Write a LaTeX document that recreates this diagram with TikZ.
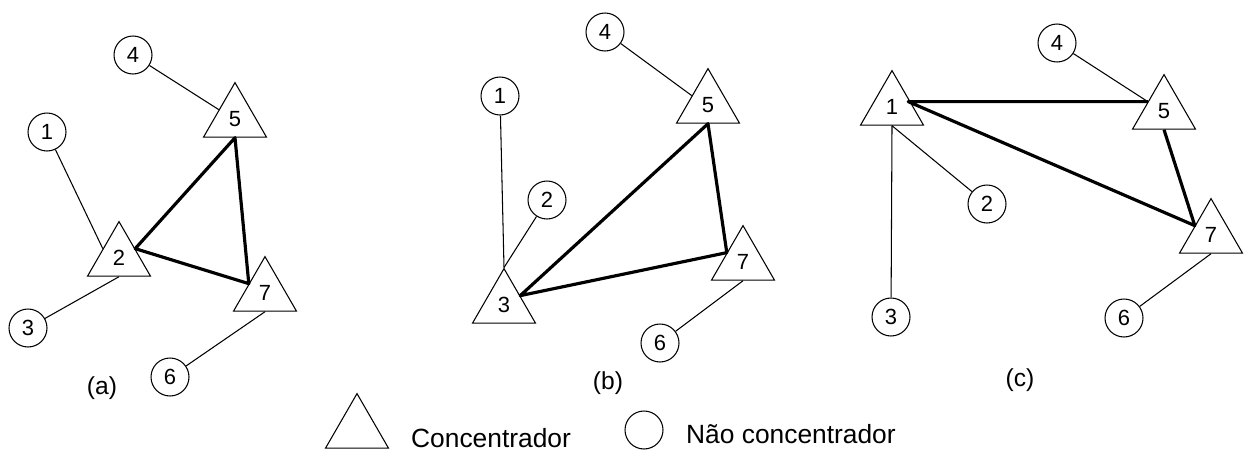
\documentclass[tikz,border=0pt]{standalone}
\usepackage{fontspec}
\setmainfont{Liberation Sans}
\usetikzlibrary{shapes.geometric}

\begin{document}
\begin{tikzpicture}[
    x=0.02cm, y=-0.02cm,
    hub/.style={regular polygon, regular polygon sides=3, draw, line width=0.6pt, minimum size=1.456cm, inner sep=0pt, font=\fontsize{12.5}{14}\selectfont},
    leaf/.style={circle, draw, line width=0.6pt, minimum size=0.76cm, inner sep=0pt, font=\fontsize{12.5}{14}\selectfont},
    access/.style={line width=0.6pt},
    backbone/.style={line width=1.8pt, line join=round},
    caption/.style={font=\fontsize{14}{16}\selectfont},
    legend/.style={font=\fontsize{15}{17}\selectfont, anchor=base west},
]
\useasboundingbox (0,0) rectangle (1246,453);

% (a) hubs 2, 5, 7
\node[hub] (a5) at (235,119) {5};
\node[hub] (a2) at (119,258) {2};
\node[hub] (a7) at (265,293) {7};
\node[leaf] (a4) at (133,55) {4};
\node[leaf] (a1) at (47,132) {1};
\node[leaf] (a3) at (28,328) {3};
\node[leaf] (a6) at (170,377) {6};
\node[caption] (capa) at (102,388) {(a)};

\draw[access] (a4) -- (a5.side 1);
\draw[access] (a1) -- (a2.side 1);
\draw[access] (a3) -- (a2.side 2);
\draw[access] (a6) -- (a7.side 2);
\draw[backbone] (a2.side 3) -- (a5.side 2) -- (a7.side 1) -- cycle;

% (b) hubs 3, 5, 7
\node[hub] (b5) at (708,105) {5};
\node[hub] (b7) at (743,262) {7};
\node[hub] (b3) at (504,305) {3};
\node[leaf] (b4) at (605,32) {4};
\node[leaf] (b1) at (500,96) {1};
\node[leaf] (b2) at (547,200) {2};
\node[leaf] (b6) at (660,343) {6};
\node[caption] (capb) at (608,383) {(b)};

\draw[access] (b4) -- (b5.side 1);
\draw[access] (b1) -- (b3.corner 1);
\draw[access] (b2) -- (b3.corner 1);
\draw[access] (b6) -- (b7.side 2);
\draw[backbone] (b3.side 3) -- (b5.side 2) -- (b7.side 1) -- cycle;

% (c) hubs 1, 5, 7
\node[hub] (c1) at (892,107) {1};
\node[hub] (c5) at (1164,111) {5};
\node[hub] (c7) at (1211,235) {7};
\node[leaf] (c4) at (1057,43) {4};
\node[leaf] (c2) at (987,204) {2};
\node[leaf] (c3) at (891,317) {3};
\node[leaf] (c6) at (1124,318) {6};
\node[caption] (capc) at (1020,380) {(c)};

\draw[access] (c4) -- (c5.side 1);
\draw[access] (c2) -- (c1.side 2);
\draw[access] (c3) -- (c1.side 2);
\draw[access] (c6) -- (c7.side 2);
\draw[backbone] (c5.side 1) -- (c1.side 3 |- c5.side 1) -- (c7.side 1) -- (c5.side 2);

% legend
\node[hub] (keyhub) at (357,430) {};
\node[legend] (keyhubtext) at (405,447) {Concentrador};
\node[leaf] (keyleaf) at (644,430) {};
\node[legend] (keyleaftext) at (680,443) {Não concentrador};

\end{tikzpicture}
\end{document}
